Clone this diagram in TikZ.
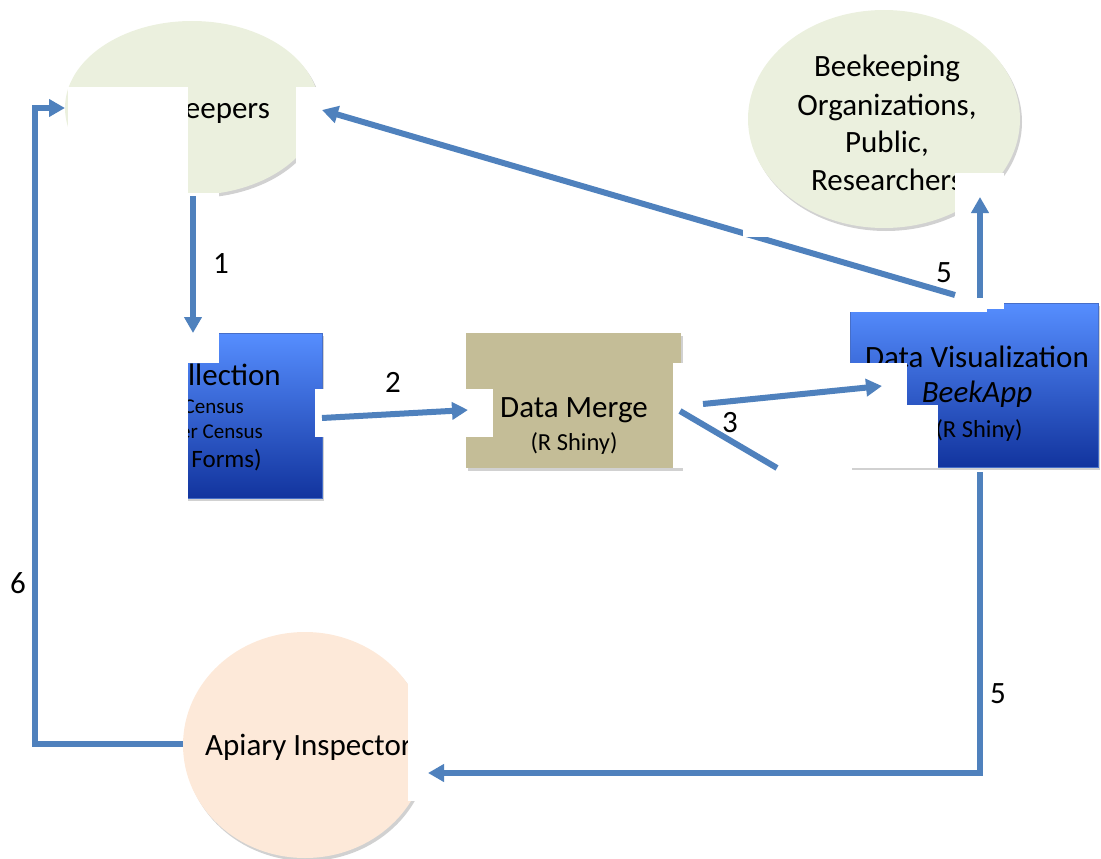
\documentclass[tikz,border=0pt]{standalone}
\usepackage{fontspec}
\setmainfont{Carlito}
\usetikzlibrary{shapes.geometric,arrows.meta,shadows}
\definecolor{arrowblue}{HTML}{4F81BD}
\definecolor{olivefill}{HTML}{EBF0DE}
\definecolor{peachfill}{HTML}{FDE9D9}
\definecolor{tanfill}{HTML}{C4BD97}
\definecolor{boxtop}{RGB}{86,142,255}
\definecolor{boxbot}{RGB}{18,52,158}
\definecolor{boxedge}{RGB}{70,110,200}
\begin{document}
\begin{tikzpicture}[x=1pt,y=-1pt,
  shadowed/.style={drop shadow={shadow xshift=2pt,shadow yshift=-3pt,opacity=0.3,fill=black!60}},
  oval/.style={ellipse,inner sep=0pt,shadowed},
  bluebox/.style={rectangle,inner sep=0pt,top color=boxtop,bottom color=boxbot,draw=boxedge,line width=0.8pt,shadowed},
  tanbox/.style={rectangle,inner sep=0pt,fill=tanfill,shadowed},
  mask/.style={fill=white,draw=none},
  arr/.style={draw=arrowblue,line width=6pt,-{Triangle[length=16pt,width=17pt]}},
  plainline/.style={draw=arrowblue,line width=6pt},
  big/.style={font=\fontsize{31}{36}\selectfont,inner sep=0pt},
  small/.style={font=\fontsize{24.5}{28}\selectfont,inner sep=0pt},
  mid/.style={font=\fontsize{25}{28}\selectfont,inner sep=0pt},
  tiny/.style={font=\fontsize{21}{24}\selectfont,inner sep=0pt},
  num/.style={font=\fontsize{31}{34}\selectfont,inner sep=0pt}]
\useasboundingbox (0,0) rectangle (1101,859);

% shapes
\node[oval,fill=olivefill,minimum width=254pt,minimum height=174pt] (bk) at (192,108) {};
\node[oval,fill=olivefill,minimum width=272pt,minimum height=218pt] (org) at (884,119) {};
\node[oval,fill=peachfill,minimum width=244pt,minimum height=226pt] (api) at (305,745) {};
\node[bluebox,minimum width=222pt,minimum height=165pt] (dc) at (211,415.5) {};
\node[tanbox,minimum width=215pt,minimum height=135pt] (dm) at (573.5,400.5) {};
\node[bluebox,minimum width=248pt,minimum height=164pt] (dv) at (974,385) {};

% texts
\node[big,anchor=base east] (tbk) at (270,118) {Beekeepers};
\node[big,anchor=base] (to1) at (887,77) {Beekeeping};
\node[big,anchor=base] (to2) at (887,115) {Organizations,};
\node[big,anchor=base] (to3) at (887,152) {Public,};
\node[big,anchor=base] (to4) at (887,190) {Researchers};
\node[big,anchor=base east] (tdc1) at (281,385) {llection};
\node[tiny,anchor=base east] (tdc2) at (244,413) {Census};
\node[tiny,anchor=base east] (tdc3) at (263,438) {er Census};
\node[mid,anchor=base east] (tdc4) at (262,467) {Forms)};
\node[big,anchor=base] (tdm1) at (574,417) {Data Merge};
\node[small,anchor=base] (tdm2) at (574,450) {(R Shiny)};
\node[big,anchor=base] (tdv1) at (977,367) {Data Visualization};
\node[big,anchor=base] (tdv2) at (977,402) {\itshape BeekApp};
\node[small,anchor=base] (tdv3) at (979,437) {(R Shiny)};
\node[big,anchor=base west] (tap) at (205,755) {Apiary Inspector};

% masks
\fill[mask] (68,87) rectangle (188,505);
\fill[mask] (188,193) rectangle (219,363);
\fill[mask] (296,87) rectangle (330,200);
\fill[mask] (315,389) rectangle (350,437);
\fill[mask] (440,389) rectangle (493,437);
\fill[mask] (673,363) rectangle (907,405);
\fill[mask] (673,405) rectangle (938,468);
\fill[mask] (845,297) rectangle (987,312);
\fill[mask] (955,173) rectangle (1004,309);
\fill[mask] (408,673) rectangle (450,801);

% connector end points
\coordinate (a1s) at (193,196);
\coordinate (a1e) at (193,333);
\coordinate (a2s) at (322,418);
\coordinate (a2e) at (468,410);
\coordinate (a3s) at (703,404);
\coordinate (a3e) at (882,386);
\coordinate (b3s) at (680,411);
\coordinate (b3e) at (777,468);
\coordinate (a5s) at (955,295);
\coordinate (a5e) at (322,110);
\coordinate (u5s) at (980,298);
\coordinate (u5e) at (980,197);
\coordinate (d5s) at (980,472);
\coordinate (d5c) at (980,773);
\coordinate (d5e) at (428,773);
\coordinate (a6s) at (183,744);
\coordinate (a6c1) at (35,744);
\coordinate (a6c2) at (35,108);
\coordinate (a6e) at (65,108);

% connectors
\draw[arr] (a1s) -- (a1e);
\draw[arr] (a2s) -- (a2e);
\draw[arr] (a3s) -- (a3e);
\draw[plainline] (b3s) -- (b3e);
\draw[arr] (a5s) -- (a5e);
\draw[arr] (u5s) -- (u5e);
\draw[arr] (d5s) -- (d5c) -- (d5e);
\draw[arr] (a6s) -- (a6c1) -- (a6c2) -- (a6e);
\fill[mask] (743,222) rectangle (775,237);

% labels
\node[num,anchor=base] (n1) at (221,273) {1};
\node[num,anchor=base] (n2) at (393,392) {2};
\node[num,anchor=base] (n3) at (730,432) {3};
\node[num,anchor=base] (n5a) at (944,282) {5};
\node[num,anchor=base] (n5b) at (998,703) {5};
\node[num,anchor=base] (n6) at (18,593) {6};
\end{tikzpicture}
\end{document}
